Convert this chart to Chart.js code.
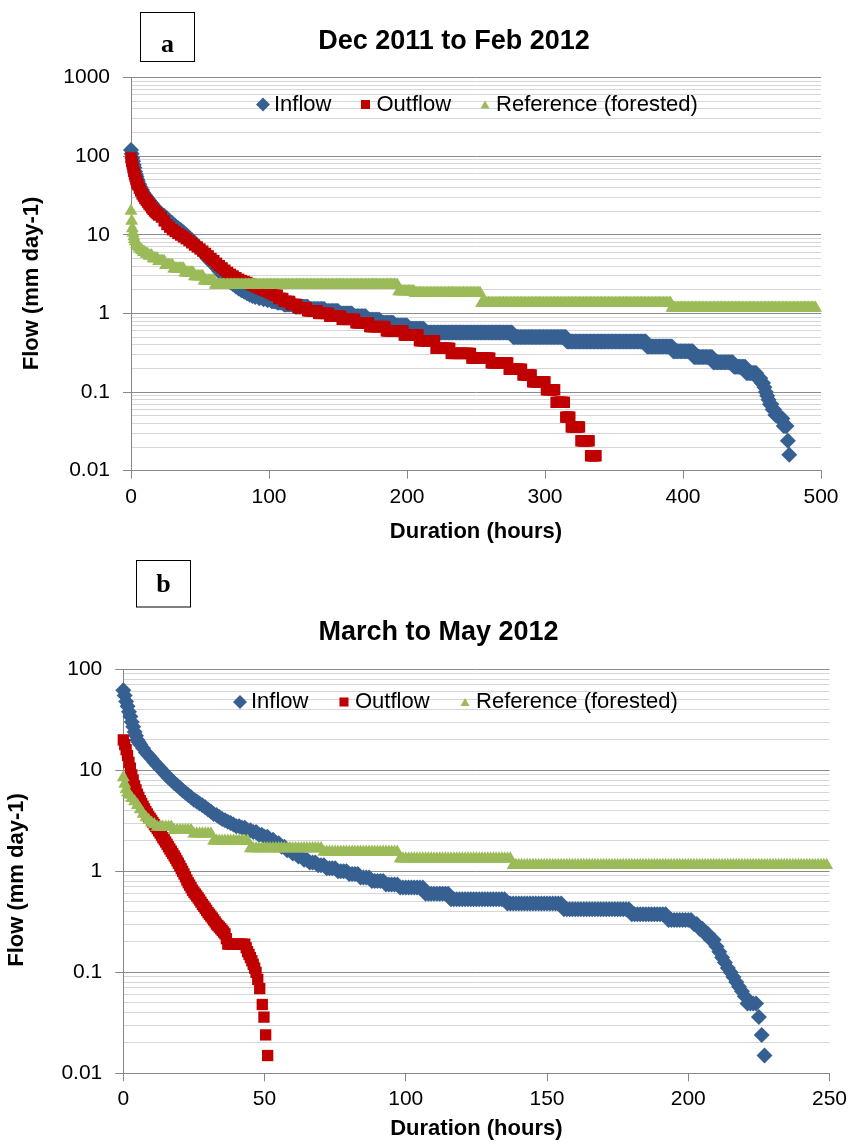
<!DOCTYPE html>
<html>
<head>
<meta charset="utf-8">
<script src="https://cdn.jsdelivr.net/npm/chart.js@4.4.0/dist/chart.umd.min.js"></script>
<style>
  html, body { margin: 0; padding: 0; background: #fff; }
  canvas { display: block; }
</style>
</head>
<body>
<canvas id="chart-a" width="852" height="555"></canvas>
<canvas id="chart-b" width="852" height="590"></canvas>
<script>
// Flow duration curves.
// Each entry is [hour, flow (mm/day)] or [fromHour, flow, toHour] when the
// flow level holds flat over a range of hours (one reading per hour).

// (a) Dec 2011 to Feb 2012
const inflowA = [
  [0,120],[0.5,107],[1,95],[1.5,86],[2,78],[2.5,71],[3,64],[3.5,59],[4,55],[4.5,51],[5,48],[6,44],
  [7,40],[8,37],[9,34],[10,32],[11,30.5],[12,29],[13,27.5],[14,26],[15,25],[16,23.5],[17,22.5],[18,21.5],
  [19,20.5],[20,19.8],[22,18.5],[24,17.5],[26,16.2],[28,15],[30,14],[32,13],[34,12.2],[36,11.5],[38,10.8],
  [40,10],[42,9.3],[44,8.6],[46,7.9],[48,7.2],[50,6.6],[52,6],[54,5.4],[56,4.9],[58,4.5],[60,4.2],
  [62,3.8],[64,3.45],[66,3.15],[68,2.9],[70,2.7],[72,2.5],[74,2.35],[76,2.2],[78,2.08],[80,1.97],
  [82,1.88],[84,1.8],[86,1.73],[88,1.67],[90,1.62],[93,1.56],[96,1.51],[99,1.47],[102,1.43,105],
  [106,1.38,110],[111,1.3,118],[119,1.22,128],[129,1.14,140],[141,1.07,150],[151,1.0,160],[161,0.92,170],
  [171,0.83,180],[181,0.76,190],[191,0.7,200],[201,0.64,212],[213,0.57,276],[277,0.5,315],[316,0.44,373],
  [374,0.38,392],[393,0.33,407],[408,0.28,421],[422,0.24,436],[437,0.21,445],[446,0.175,453],
  [454,0.15,456],[457,0.13,458],[459,0.115],[460,0.1],[461,0.09],[462,0.08],[463,0.07,464],[465,0.06,466],
  [467,0.051,469],[470,0.046,472],[473,0.037,475],[476,0.024],[477,0.016]
];
const outflowA = [
  [0,95],[0.5,86],[1,78],[1.5,71],[2,64],[2.5,59],[3,55],[3.5,51],[4,48],[4.5,45],[5,43],[6,39],
  [7,36],[8,33],[9,31],[10,29],[11,27.5],[12,26],[13,24.5],[14,23.5],[15,22],[16,21],[17,20],[18,19.2],
  [19,18.5],[20,17.8],[22,16.8],[24,15],[26,13.5],[28,12.5],[30,11.6],[32,11],[34,10.4],[36,9.9],
  [38,9.4],[40,8.9],[42,8.4],[44,7.9],[46,7.4],[48,7.0],[50,6.6],[52,6.2],[54,5.8],[56,5.4],[58,5.0],
  [60,4.7],[62,4.35],[64,4.05],[66,3.8],[68,3.55],[70,3.33],[72,3.15],[74,3.0],[76,2.85],[78,2.72],
  [80,2.62],[82,2.55],[84,2.48],[86,2.38],[88,2.28],[90,2.2],[92,2.12],[94,2.05],[96,1.98],[98,1.92],
  [100,1.85],[102,1.78],[104,1.7,106],[107,1.55,110],[111,1.42,115],[116,1.3,120],[121,1.18,127],
  [128,1.08,135],[136,1.0,143],[144,0.92,152],[153,0.84,162],[163,0.76,172],[173,0.68,184],[185,0.6,197],
  [198,0.53,208],[209,0.45,220],[221,0.36,231],[232,0.31,246],[247,0.27,260],[261,0.235,273],
  [274,0.195,283],[284,0.165,290],[291,0.135,300],[301,0.107,307],[308,0.074,314],[315,0.048,318],
  [319,0.036,325],[326,0.024,332],[333,0.0155,337]
];
const referenceA = [
  [0,20],[0.5,15],[1,12],[1.5,10.5],[2,9.5],[2.5,8.8],[3,8.2],[4,7.5],[5,7.1],[6,6.8],[7,6.5],[8,6.3],
  [9,6.0,10],[11,5.7,12],[13,5.4,15],[16,5.0,19],[20,4.6,24],[25,4.1,30],[31,3.7,38],[39,3.3,45],
  [46,2.95,52],[53,2.6,60],[61,2.3,193],[194,1.9,205],[206,1.8,253],[254,1.35,391],[392,1.17,496]
];

// (b) March to May 2012
const inflowB = [
  [0,62],[0.5,55],[1,48],[1.5,43],[2,38],[2.5,34],[3,30],[3.5,27],[4,24],[4.5,22],[5,20],[5.5,19],
  [6,18],[7,16.5],[8,15],[9,14],[10,13],[11,12],[12,11.2],[13,10.5],[14,9.8],[15,9.1],[16,8.5],[17,8],
  [18,7.5],[19,7.1],[20,6.7],[21,6.3],[22,6],[23,5.7],[24,5.4],[25,5.1],[26,4.9],[27,4.7],[28,4.5],
  [29,4.3],[30,4.1],[31,3.9],[32,3.7],[33,3.6],[34,3.45],[35,3.3],[36,3.2],[37,3.1],[38,3.0],[39,2.9],
  [40,2.8,41],[42,2.7,43],[44,2.55,45],[46,2.45,47],[48,2.3,49],[50,2.2,51],[52,2.05,53],[54,1.9,55],
  [56,1.75,57],[58,1.62,59],[60,1.5,61],[62,1.4,63],[64,1.3,65],[66,1.22,68],[69,1.15,71],[72,1.07,75],
  [76,1.0,79],[80,0.94,83],[84,0.87,87],[88,0.8,92],[93,0.74,97],[98,0.69,106],[107,0.6,115],
  [116,0.53,135],[136,0.48,155],[156,0.42,179],[180,0.375,192],[193,0.33,201],[202,0.3,203],
  [204,0.27,205],[206,0.24,207],[208,0.21,209],[210,0.18],[211,0.16],[212,0.14],[213,0.125],[214,0.11],
  [215,0.1],[216,0.09],[217,0.08],[218,0.072],[219,0.065],[220,0.058],[221,0.049,224],[225,0.036],
  [226,0.024],[227,0.015]
];
const outflowB = [
  [0,20],[0.5,18],[1,16],[1.5,14],[2,12],[2.5,10.5],[3,9],[3.5,8],[4,7],[4.5,6.4],[5,5.8],[5.5,5.4],
  [6,5],[6.5,4.7],[7,4.4],[7.5,4.15],[8,3.9],[8.5,3.7],[9,3.5],[9.5,3.35],[10,3.2],[10.5,3.05],[11,2.9],
  [11.5,2.78],[12,2.65],[12.5,2.52],[13,2.4],[13.5,2.28],[14,2.15],[14.5,2.05],[15,1.95],[15.5,1.85],
  [16,1.75],[16.5,1.66],[17,1.58],[17.5,1.5],[18,1.42],[18.5,1.35],[19,1.27],[19.5,1.2],[20,1.13],
  [20.5,1.06],[21,1.0],[21.5,0.94],[22,0.88],[22.5,0.82],[23,0.77],[23.5,0.73],[24,0.69],[24.5,0.65],
  [25,0.62],[25.5,0.595],[26,0.57],[26.5,0.545],[27,0.52],[27.5,0.495],[28,0.47],[28.5,0.45],[29,0.43],
  [29.5,0.41],[30,0.39],[30.5,0.375],[31,0.36],[31.5,0.345],[32,0.33],[32.5,0.315],[33,0.3],[33.5,0.29],
  [34,0.28],[34.5,0.27],[35,0.26],[35.5,0.25],[36,0.24],[36.5,0.215],[37,0.19,43],[43.5,0.175],[44,0.16],
  [44.5,0.15],[45,0.14],[45.5,0.13],[46,0.12],[46.5,0.11],[47,0.1],[47.6,0.085],[48.3,0.069],
  [49.2,0.048],[49.8,0.036],[50.4,0.024],[51.1,0.015]
];
const referenceB = [
  [0,8.5],[0.5,7.3],[1,6.5],[1.5,6],[2,5.7],[3,5.3],[4,4.9],[5,4.5],[6,4.1],[7,3.7],[8,3.4],[9,3.2],
  [10,3.0],[11,2.9],[12,2.75,17],[18,2.55,24],[25,2.35,31],[32,2.0,44],[45,1.68,70],[71,1.55,97],
  [98,1.33,137],[138,1.15,249]
];

const yDecadesA = [0.01, 0.1, 1, 10, 100, 1000];
const yLabelsA = ['0.01', '0.1', '1', '10', '100', '1000'];
const yDecadesB = [0.01, 0.1, 1, 10, 100];
const yLabelsB = ['0.01', '0.1', '1', '10', '100'];
const minorSteps = [1, 2, 3, 4, 5, 6, 7, 8, 9];

const seriesNames = ['Inflow', 'Outflow', 'Reference (forested)'];
const seriesColors = ['#376092', '#c00000', '#9bbb59'];
const seriesShapes = ['rectRot', 'rect', 'triangle'];
const seriesRadius = [8, 8, 7.5];
const legendRadius = [7, 6.4, 5.2];
const legendDy = [0, 0, 1.3];

const FONT = '"Liberation Sans", Arial, sans-serif';
Chart.defaults.font.family = FONT;
Chart.defaults.color = '#000';

const toPoints = (entries) => {
    const pts = [];
    entries.forEach(([from, flow, to = from]) => {
        for (let h = from; h <= to; h++) pts.push({ x: h, y: flow });
    });
    return pts;
};

// 1..9 per decade, for the Excel-style minor gridlines
const logTicks = (decades) => {
    const ticks = [];
    decades.forEach((d, i) => {
        if (i === decades.length - 1) { ticks.push({ value: d }); return; }
        minorSteps.forEach(m => ticks.push({ value: +(d * m).toPrecision(6) }));
    });
    return ticks;
};

// Title, legend, y-axis title and the panel letter box
const panelText = {
    id: 'panelText',
    afterDraw(chart, args, o) {
        const ctx = chart.ctx;
        ctx.save();
        ctx.fillStyle = '#000';
        ctx.textAlign = 'center';
        ctx.textBaseline = 'middle';
        ctx.font = `bold 27px ${FONT}`;
        ctx.fillText(o.title, o.titleX, o.titleY);

        // legend inside the plot area, Excel style
        ctx.font = `22px ${FONT}`;
        ctx.textAlign = 'left';
        let x = o.legendX;
        seriesNames.forEach((name, i) => {
            ctx.fillStyle = seriesColors[i];
            Chart.helpers.drawPoint(ctx, {
                pointStyle: seriesShapes[i], radius: legendRadius[i], borderWidth: 0, rotation: 0
            }, x, o.legendY + legendDy[i]);
            ctx.fillStyle = '#000';
            ctx.fillText(name, x + 11, o.legendY);
            x += 11 + ctx.measureText(name).width + o.legendGap;
        });

        ctx.textAlign = 'center';
        ctx.save();
        ctx.translate(o.yTitleX, o.yTitleY);
        ctx.rotate(-Math.PI / 2);
        ctx.font = `bold 22px ${FONT}`;
        ctx.fillText(o.yTitle, 0, 0);
        ctx.restore();

        const [bx, by, bw, bh] = o.box;
        ctx.strokeStyle = '#000';
        ctx.lineWidth = 1;
        ctx.strokeRect(bx, by, bw, bh);
        ctx.font = 'bold 26px "Liberation Serif", "Times New Roman", serif';
        ctx.textBaseline = 'alphabetic';
        ctx.fillText(o.letter, bx + bw / 2, o.letterBaseline);
        ctx.restore();
    }
};

function makePanel(id, cfg) {
    const ctx = document.getElementById(id).getContext('2d');
    const isDecade = (v) => cfg.decades.includes(v);
    return new Chart(ctx, {
        type: 'scatter',
        data: {
            datasets: cfg.series.map((entries, i) => ({
                label: seriesNames[i],
                data: toPoints(entries),
                pointStyle: seriesShapes[i],
                pointRadius: seriesRadius[i],
                pointHoverRadius: seriesRadius[i],
                backgroundColor: seriesColors[i],
                borderColor: seriesColors[i],
                pointBorderWidth: 0,
                order: 3 - i,   // reference on top, inflow at the back
                clip: false
            }))
        },
        options: {
            responsive: false,
            animation: false,
            events: [],
            layout: { padding: cfg.padding },
            scales: {
                x: {
                    type: 'linear',
                    min: 0,
                    max: cfg.xMax,
                    afterFit: (s) => { s.height = cfg.xAxisHeight; },
                    ticks: { stepSize: cfg.xStep, padding: cfg.xTickPad, maxRotation: 0, color: '#000', font: { size: 21 } },
                    grid: { drawOnChartArea: false, tickLength: 8, tickColor: '#868686' },
                    border: { color: '#868686' },
                    title: {
                        display: true,
                        text: 'Duration (hours)',
                        color: '#000',
                        font: { size: 22, weight: 'bold' },
                        padding: { top: 0, bottom: cfg.xTitlePad }
                    }
                },
                y: {
                    type: 'logarithmic',
                    min: cfg.decades[0],
                    max: cfg.decades[cfg.decades.length - 1],
                    afterFit: (s) => { s.width = cfg.yAxisWidth; },
                    afterBuildTicks: (s) => { s.ticks = logTicks(cfg.decades); },
                    ticks: {
                        autoSkip: false,
                        padding: 13,
                        color: '#000',
                        font: { size: 21 },
                        callback: (v) => {
                            const i = cfg.decades.indexOf(v);
                            return i < 0 ? '' : cfg.labels[i];
                        }
                    },
                    grid: {
                        color: (c) => (c.tick && isDecade(c.tick.value)) ? '#8c8c8c' : '#d6d6d6',
                        tickColor: (c) => (c.tick && isDecade(c.tick.value)) ? '#868686' : 'rgba(0,0,0,0)',
                        tickLength: 8
                    },
                    border: { color: '#868686' }
                }
            },
            plugins: {
                legend: { display: false },
                tooltip: { enabled: false },
                title: { display: false },
                panelText: cfg.text
            }
        },
        plugins: [panelText]
    });
}

makePanel('chart-a', {
    series: [inflowA, outflowA, referenceA],
    decades: yDecadesA,
    labels: yLabelsA,
    xMax: 500,
    xStep: 100,
    padding: { top: 77.5, right: 31, bottom: 0, left: 0 },
    yAxisWidth: 131,
    xAxisHeight: 84.3,
    xTickPad: 6,
    xTitlePad: 10,
    text: {
        title: 'Dec 2011 to Feb 2012', titleX: 454, titleY: 41.5,
        legendX: 263, legendY: 104.5, legendGap: 34,
        yTitle: 'Flow (mm day-1)', yTitleX: 32, yTitleY: 283.5,
        letter: 'a', box: [140.5, 12.5, 54, 49], letterBaseline: 51.7
    }
});

makePanel('chart-b', {
    series: [inflowB, outflowB, referenceB],
    decades: yDecadesB,
    labels: yLabelsB,
    xMax: 250,
    xStep: 50,
    padding: { top: 114.3, right: 22, bottom: 0, left: 0 },
    yAxisWidth: 123.3,
    xAxisHeight: 71.7,
    xTickPad: 5,
    xTitlePad: 3,
    text: {
        title: 'March to May 2012', titleX: 438.5, titleY: 78,
        legendX: 240, legendY: 147, legendGap: 35.5,
        yTitle: 'Flow (mm day-1)', yTitleX: 17, yTitleY: 325,
        letter: 'b', box: [136.5, 5.5, 54, 46.5], letterBaseline: 36.7
    }
});
</script>
</body>
</html>
